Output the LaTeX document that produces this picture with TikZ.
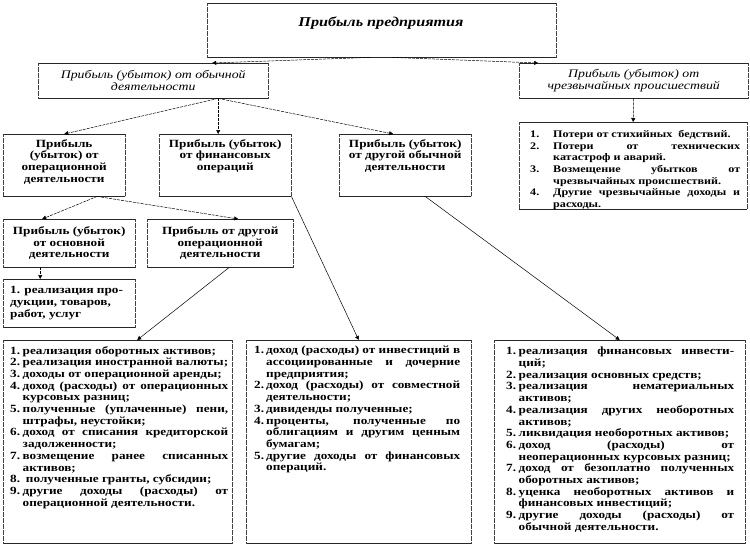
\documentclass[tikz,border=0pt]{standalone}
\usepackage{fontspec}
\setmainfont{Liberation Serif}[FakeStretch=1.2]
\usetikzlibrary{arrows.meta,calc}
\newcommand{\fb}{\fontsize{11}{11.7}\selectfont\bfseries}
\newcommand{\fbs}{\fontsize{10.1}{11.7}\selectfont\bfseries}
\newcommand{\fitx}{\fontsize{11.5}{12}\selectfont\itshape}
\newcommand{\itm}[2]{\par\hangindent=#1\hangafter=1\noindent\makebox[#1][l]{#2}\ignorespaces}
\tikzset{
  frame/.style={draw=none, inner sep=0pt, anchor=north west},
  ctxt/.style={font=\fb, align=center, inner sep=0pt},
  itxt/.style={font=\fitx, align=center, inner sep=0pt},
  ltxt/.style={inner sep=0pt, anchor=north west},
  hline/.style={line width=0.6pt, draw=black!85},
  vline/.style={line width=0.7pt, draw=black!75, dash pattern=on 0.6pt off 0.6pt},
  conn/.style={line width=0.5pt, dash pattern=on 3pt off 1pt, -{Triangle[length=4pt,width=4pt]}},
  conn2/.style={line width=0.5pt, -{Triangle[length=4pt,width=4pt]}}
}
\begin{document}
\begin{tikzpicture}[x=1pt,y=-1pt]
\fill[white] (0,0) rectangle (750,546);
\useasboundingbox (0,0) rectangle (750,546);

% frames
\node[frame, minimum width=349pt, minimum height=54pt] (top) at (207,3) {};
\node[frame, minimum width=230pt, minimum height=35pt] (l2a) at (38,63) {};
\node[frame, minimum width=229pt, minimum height=35pt] (l2b) at (519,63) {};
\node[frame, minimum width=122pt, minimum height=62pt] (l3a) at (3,134) {};
\node[frame, minimum width=132pt, minimum height=62pt] (l3b) at (159,134) {};
\node[frame, minimum width=132pt, minimum height=62pt] (l3c) at (339,134) {};
\node[frame, minimum width=228pt, minimum height=87pt] (ext) at (519,122) {};
\node[frame, minimum width=132pt, minimum height=48pt] (l4a) at (3,219) {};
\node[frame, minimum width=146pt, minimum height=48pt] (l4b) at (147,219) {};
\node[frame, minimum width=132pt, minimum height=48pt] (sm) at (3,279) {};
\node[frame, minimum width=229pt, minimum height=203pt] (bl) at (3,340) {};
\node[frame, minimum width=225pt, minimum height=203pt] (bm) at (246,340) {};
\node[frame, minimum width=251pt, minimum height=203pt] (br) at (494,340) {};

\foreach \n in {top,l2a,l2b,l3a,l3b,l3c,ext,l4a,l4b,sm,bl,bm,br}{
  \draw[hline] (\n.north west) -- (\n.north east) (\n.south west) -- (\n.south east);
  \draw[vline] (\n.north west) -- (\n.south west) (\n.north east) -- (\n.south east);
}

% texts
\node[inner sep=0pt, font=\fontsize{13.5}{13.5}\selectfont\bfseries\itshape] (ttop) at (381,23) {Прибыль предприятия};
\node[itxt] (tl2a) at (l2a.center) {Прибыль (убыток) от обычной\\деятельности};
\node[itxt] (tl2b) at (l2b.center) {Прибыль (убыток) от\\чрезвычайных происшествий};
\node[ctxt, anchor=north] (tl3a) at ([yshift=-5pt]l3a.north) {Прибыль\\(убыток) от\\операционной\\деятельности};
\node[ctxt, anchor=north] (tl3b) at ([yshift=-5pt]l3b.north) {Прибыль (убыток)\\от финансовых\\операций};
\node[ctxt, anchor=north] (tl3c) at ([yshift=-5pt]l3c.north) {Прибыль (убыток)\\от другой обычной\\деятельности};
\node[ctxt] (tl4a) at (l4a.center) {Прибыль (убыток)\\от основной\\деятельности};
\node[ctxt] (tl4b) at (l4b.center) {Прибыль от другой\\операционной\\деятельности};
\node[ctxt, align=left, anchor=west] (tsm) at ([xshift=7pt]sm.west) {1. реализация про-\\дукции, товаров,\\работ, услуг};

\node[ltxt] (text) at ([xshift=11pt,yshift=-8pt]ext.north west) {\parbox{210pt}{\fbs
\itm{23pt}{1.}Потери от стихийных\ \ бедствий.
\itm{23pt}{2.}Потери от технических\linebreak катастроф и аварий.
\itm{23pt}{3.}Возмещение убытков от\linebreak чрезвычайных происшествий.
\itm{23pt}{4.}Другие чрезвычайные доходы и\linebreak расходы.}};

\node[ltxt] (tbl) at ([xshift=7pt,yshift=-6pt]bl.north west) {\parbox{218pt}{\fb
\itm{12.5pt}{1.}реализация оборотных активов;
\itm{12.5pt}{2.}реализация иностранной валюты;
\itm{12.5pt}{3.}доходы от операционной аренды;
\itm{12.5pt}{4.}доход (расходы) от операционных\linebreak курсовых разниц;
\itm{12.5pt}{5.}полученные (уплаченные) пени,\linebreak штрафы, неустойки;
\itm{12.5pt}{6.}доход от списания кредиторской\linebreak задолженности;
\itm{12.5pt}{7.}возмещение ранее списанных\linebreak активов;
\itm{12.5pt}{8.}\ полученные гранты, субсидии;
\itm{12.5pt}{9.}другие доходы (расходы) от\linebreak операционной деятельности.}};

\node[ltxt] (tbm) at ([xshift=8pt,yshift=-6pt]bm.north west) {\parbox{206pt}{\fb
\itm{12pt}{1.}доход (расходы) от инвестиций в\linebreak ассоциированные и дочерние\linebreak предприятия;
\itm{12pt}{2.}доход (расходы) от совместной\linebreak деятельности;
\itm{12pt}{3.}дивиденды полученные;
\itm{12pt}{4.}проценты, полученные по\linebreak облигациям и другим ценным\linebreak бумагам;
\itm{12pt}{5.}другие доходы от финансовых\linebreak операций.}};

\node[ltxt] (tbr) at ([xshift=12pt,yshift=-7pt]br.north west) {\parbox{228pt}{\fb
\itm{12.5pt}{1.}реализация финансовых инвести-\linebreak ций;
\itm{12.5pt}{2.}реализация основных средств;
\itm{12.5pt}{3.}реализация нематериальных\linebreak активов;
\itm{12.5pt}{4.}реализация других необоротных\linebreak активов;
\itm{12.5pt}{5.}ликвидация необоротных активов;
\itm{12.5pt}{6.}доход (расходы) от\linebreak неоперационных курсовых разниц;
\itm{12.5pt}{7.}доход от безоплатно полученных\linebreak оборотных активов;
\itm{12.5pt}{8.}уценка необоротных активов и\linebreak финансовых инвестиций;
\itm{12.5pt}{9.}другие доходы (расходы) от\linebreak обычной деятельности.}};

% connectors
\draw[conn] ([xshift=-11.5pt]top.south) -- ([xshift=59pt]l2a.north);
\draw[conn] ([xshift=10.5pt]top.south) -- ([xshift=-95.5pt]l2b.north);
\draw[conn] ([xshift=65pt]l2a.south) -- (l3a.north);
\draw[conn] ([xshift=65pt]l2a.south) -- ([xshift=-7pt]l3b.north);
\draw[conn] ([xshift=65pt]l2a.south) -- ([xshift=-12pt]l3c.north);
\draw[conn] (l2b.south) -- (ext.north);
\draw[conn] ([xshift=33pt]l3a.south) -- ([xshift=-27pt]l4a.north);
\draw[conn] ([xshift=33pt]l3a.south) -- ([xshift=18pt]l4b.north);
\draw[conn] ([xshift=-29pt]l4a.south) -- ([xshift=-29pt]sm.north);
\draw[conn2] ([xshift=9pt]l4b.south) -- ([xshift=19.5pt]bl.north);
\draw[conn2] (l3b.south east) -- (bm.north);
\draw[conn2] ([xshift=20pt]l3c.south) -- (br.north);
\end{tikzpicture}
\end{document}
